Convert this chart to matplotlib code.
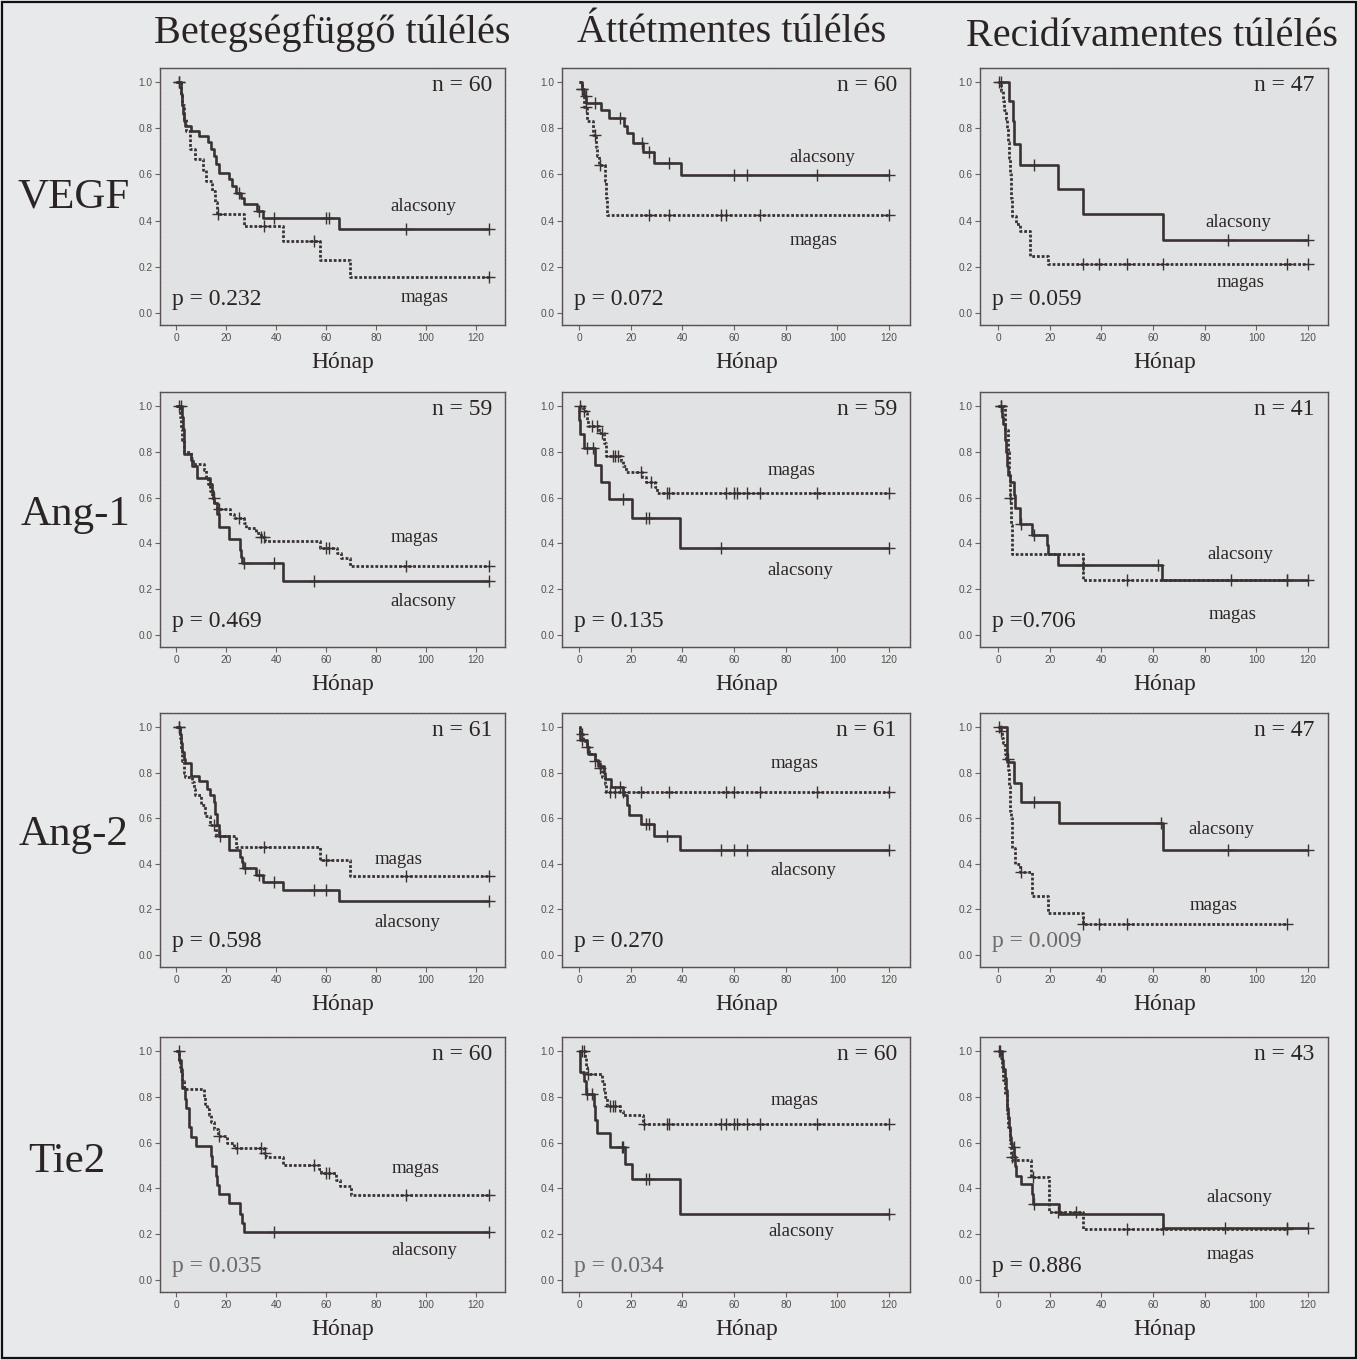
import matplotlib
matplotlib.use("Agg")
import matplotlib.pyplot as plt
from matplotlib.patches import Rectangle

# ---------------- DATA ----------------
col_titles = ["Betegségfüggő túlélés", "Áttétmentes túlélés", "Recidívamentes túlélés"]
row_labels = ["VEGF", "Ang-1", "Ang-2", "Tie2"]
x_ticks = [0, 20, 40, 60, 80, 100, 120]
y_ticks = [0.0, 0.2, 0.4, 0.6, 0.8, 1.0]
y_tick_labels = ["0.0", "0.2", "0.4", "0.6", "0.8", "1.0"]

n_values = [[60, 60, 47], [59, 59, 41], [61, 61, 47], [60, 60, 43]]
p_values = [["p = 0.232", "p = 0.072", "p = 0.059"],
            ["p = 0.469", "p = 0.135", "p =0.706"],
            ["p = 0.598", "p = 0.270", "p = 0.009"],
            ["p = 0.035", "p = 0.034", "p = 0.886"]]

# VEGF - disease specific
vegf_dss_low_t = [1.8, 2.2, 2.6, 3.0, 3.6, 5.8, 9.0, 12.8, 14.0, 15.0, 16.0, 17.0, 21.3, 22.5, 24.0, 25.8, 27.0, 32.4, 34.8, 65.0]
vegf_dss_low_s = [0.95, 0.90, 0.86, 0.83, 0.81, 0.79, 0.765, 0.74, 0.71, 0.68, 0.645, 0.605, 0.58, 0.55, 0.52, 0.50, 0.47, 0.44, 0.41, 0.365]
vegf_dss_low_c = [1.0, 25.0, 33.0, 39.0, 60.0, 61.0, 92.0, 125.0]
vegf_dss_high_t = [2.0, 2.5, 3.0, 4.0, 5.7, 7.7, 10.8, 12.0, 14.4, 15.5, 16.2, 27.0, 42.7, 57.4, 69.6]
vegf_dss_high_s = [0.95, 0.90, 0.84, 0.79, 0.71, 0.665, 0.62, 0.57, 0.53, 0.48, 0.43, 0.375, 0.31, 0.23, 0.155]
vegf_dss_high_c = [1.0, 16.8, 35.0, 55.0, 125.0]
# VEGF - metastasis free
vegf_mfs_low_t = [1.0, 2.0, 2.8, 8.6, 11.7, 17.5, 18.4, 20.7, 24.9, 29.0, 39.6]
vegf_mfs_low_s = [0.97, 0.94, 0.91, 0.88, 0.846, 0.81, 0.778, 0.735, 0.698, 0.648, 0.598]
vegf_mfs_low_c = [1.0, 2.5, 6.0, 16.0, 24.5, 27.0, 35.0, 60.0, 65.0, 92.0, 120.0]
vegf_mfs_high_t = [1.0, 1.5, 2.0, 3.0, 5.5, 6.5, 7.0, 7.7, 10.2, 10.5, 10.9]
vegf_mfs_high_s = [0.97, 0.94, 0.89, 0.83, 0.77, 0.72, 0.68, 0.64, 0.57, 0.50, 0.426]
vegf_mfs_high_c = [1.0, 2.5, 6.0, 8.0, 27.0, 35.0, 55.0, 57.0, 70.0, 120.0]
# VEGF - recurrence free
vegf_rfs_low_t = [4.2, 5.9, 6.3, 8.3, 23.0, 33.0, 64.0]
vegf_rfs_low_s = [0.918, 0.83, 0.733, 0.643, 0.536, 0.43, 0.318]
vegf_rfs_low_c = [0.3, 14.0, 89.0, 120.0]
vegf_rfs_high_t = [1.2, 1.8, 2.4, 3.0, 3.5, 3.8, 4.2, 4.6, 5.0, 5.5, 7.0, 8.4, 12.5, 19.2]
vegf_rfs_high_s = [0.96, 0.92, 0.88, 0.84, 0.80, 0.74, 0.67, 0.60, 0.50, 0.42, 0.386, 0.355, 0.247, 0.211]
vegf_rfs_high_c = [1.0, 33.0, 39.0, 50.0, 64.0, 112.0, 120.0]

# Ang-1
ang1_dss_low_t = [2.4, 2.7, 3.0, 3.3, 5.8, 6.2, 8.4, 13.7, 14.2, 14.7, 15.0, 16.3, 17.0, 21.3, 25.4, 26.0, 26.5, 42.6]
ang1_dss_low_s = [0.95, 0.90, 0.85, 0.79, 0.765, 0.736, 0.685, 0.66, 0.63, 0.60, 0.576, 0.53, 0.47, 0.419, 0.37, 0.34, 0.314, 0.234]
ang1_dss_low_c = [2.0, 27.0, 39.0, 55.0, 125.0]
ang1_dss_high_t = [1.5, 2.0, 2.5, 3.0, 6.0, 6.8, 11.0, 11.8, 12.6, 13.4, 14.2, 15.2, 16.2, 21.5, 23.0, 27.0, 28.0, 32.0, 34.0, 35.5, 57.4, 64.3, 66.0, 69.6]
ang1_dss_high_s = [0.95, 0.90, 0.85, 0.80, 0.775, 0.747, 0.72, 0.69, 0.66, 0.63, 0.60, 0.575, 0.55, 0.53, 0.51, 0.49, 0.467, 0.445, 0.43, 0.41, 0.382, 0.36, 0.336, 0.30]
ang1_dss_high_c = [1.0, 15.0, 17.0, 25.0, 34.0, 35.0, 60.0, 61.0, 92.0, 125.0]
ang1_mfs_low_t = [0.05, 0.5, 1.9, 6.0, 8.6, 11.7, 20.4, 39.0]
ang1_mfs_low_s = [0.94, 0.876, 0.818, 0.741, 0.669, 0.593, 0.509, 0.379]
ang1_mfs_low_c = [3.0, 5.5, 17.0, 26.0, 27.0, 55.0, 120.0]
ang1_mfs_high_t = [1.0, 1.8, 2.5, 3.0, 3.4, 7.9, 9.8, 10.3, 10.6, 16.2, 17.0, 18.1, 24.5, 26.0, 29.5, 30.0]
ang1_mfs_high_s = [0.99, 0.98, 0.97, 0.94, 0.913, 0.884, 0.84, 0.80, 0.78, 0.76, 0.74, 0.712, 0.69, 0.669, 0.645, 0.622]
ang1_mfs_high_c = [0.5, 2.0, 5.0, 7.0, 9.0, 13.0, 14.0, 15.0, 24.0, 28.0, 34.0, 35.0, 57.0, 60.0, 61.0, 65.0, 70.0, 92.0, 120.0]
ang1_rfs_low_t = [1.5, 2.0, 2.5, 2.8, 3.0, 3.5, 4.0, 4.5, 6.0, 6.5, 8.6, 13.0, 19.0, 19.3, 23.0, 63.4]
ang1_rfs_low_s = [0.95, 0.92, 0.90, 0.85, 0.80, 0.74, 0.70, 0.668, 0.61, 0.553, 0.483, 0.439, 0.395, 0.356, 0.305, 0.242]
ang1_rfs_low_c = [1.0, 9.0, 14.0, 33.0, 62.0, 90.0, 112.0, 120.0]
ang1_rfs_high_t = [2.5, 3.8, 4.2, 4.6, 5.1, 5.4, 32.9]
ang1_rfs_high_s = [0.897, 0.80, 0.70, 0.598, 0.48, 0.356, 0.239]
ang1_rfs_high_c = [1.0, 4.8, 50.0, 112.0]

# Ang-2
ang2_dss_low_t = [1.5, 2.0, 2.5, 3.0, 3.5, 6.0, 9.3, 12.5, 13.5, 15.0, 15.5, 16.5, 17.0, 21.0, 25.7, 26.2, 26.8, 32.0, 34.8, 42.6, 65.0]
ang2_dss_low_s = [0.97, 0.93, 0.89, 0.86, 0.84, 0.786, 0.761, 0.73, 0.703, 0.67, 0.62, 0.57, 0.524, 0.461, 0.43, 0.41, 0.383, 0.352, 0.32, 0.287, 0.236]
ang2_dss_low_c = [1.0, 17.5, 27.5, 33.0, 39.0, 55.0, 60.0, 125.0]
ang2_dss_high_t = [1.5, 2.0, 2.5, 3.0, 3.5, 6.5, 7.0, 7.5, 10.0, 11.5, 13.7, 15.8, 24.0, 57.7, 69.6]
ang2_dss_high_s = [0.95, 0.90, 0.85, 0.80, 0.779, 0.76, 0.73, 0.70, 0.66, 0.611, 0.57, 0.524, 0.476, 0.415, 0.345]
ang2_dss_high_c = [1.0, 15.0, 35.0, 60.0, 92.0, 125.0]
ang2_mfs_low_t = [0.5, 3.0, 3.5, 6.0, 7.5, 9.5, 10.0, 12.4, 17.0, 18.5, 19.5, 24.0, 29.0, 39.0]
ang2_mfs_low_s = [0.942, 0.91, 0.88, 0.855, 0.83, 0.80, 0.77, 0.737, 0.70, 0.657, 0.613, 0.574, 0.521, 0.46]
ang2_mfs_low_c = [1.0, 16.0, 26.0, 27.0, 34.0, 55.0, 60.0, 65.0, 120.0]
ang2_mfs_high_t = [0.5, 1.5, 3.0, 4.0, 6.0, 8.0, 9.0, 10.0, 10.5]
ang2_mfs_high_s = [0.97, 0.94, 0.91, 0.88, 0.85, 0.82, 0.78, 0.75, 0.715]
ang2_mfs_high_c = [1.0, 3.0, 6.0, 8.0, 12.0, 14.0, 17.0, 24.0, 35.0, 57.0, 60.0, 70.0, 92.0, 120.0]
ang2_rfs_low_t = [3.6, 6.0, 8.7, 23.4, 64.0]
ang2_rfs_low_s = [0.845, 0.756, 0.672, 0.578, 0.46]
ang2_rfs_low_c = [0.5, 14.0, 63.0, 89.0, 120.0]
ang2_rfs_high_t = [1.0, 1.5, 2.0, 2.5, 3.0, 4.0, 4.3, 4.5, 4.8, 5.0, 5.3, 5.5, 6.5, 8.5, 13.2, 19.2, 32.9]
ang2_rfs_high_s = [0.98, 0.95, 0.93, 0.88, 0.861, 0.81, 0.74, 0.669, 0.63, 0.60, 0.55, 0.47, 0.40, 0.366, 0.257, 0.183, 0.136]
ang2_rfs_high_c = [1.0, 3.8, 8.8, 33.0, 39.0, 50.0, 112.0]

# Tie2
tie2_dss_low_t = [1.2, 1.8, 2.5, 3.5, 4.0, 5.0, 5.3, 5.8, 8.0, 13.9, 14.5, 15.9, 16.3, 17.2, 21.0, 25.6, 26.2, 27.0]
tie2_dss_low_s = [0.96, 0.92, 0.837, 0.79, 0.753, 0.71, 0.67, 0.624, 0.587, 0.54, 0.50, 0.455, 0.415, 0.375, 0.335, 0.29, 0.25, 0.211]
tie2_dss_low_c = [39.0, 125.0]
tie2_dss_high_t = [1.2, 1.6, 2.0, 2.5, 3.0, 11.0, 11.5, 12.2, 13.0, 14.0, 15.0, 16.6, 20.3, 23.0, 35.0, 36.0, 42.9, 57.0, 58.0, 64.1, 65.5, 70.0]
tie2_dss_high_s = [0.96, 0.93, 0.90, 0.87, 0.833, 0.80, 0.77, 0.745, 0.72, 0.69, 0.66, 0.63, 0.60, 0.575, 0.555, 0.536, 0.502, 0.485, 0.466, 0.435, 0.41, 0.371]
tie2_dss_high_c = [1.0, 17.0, 24.5, 34.0, 35.5, 55.0, 60.0, 61.0, 92.0, 125.0]
tie2_mfs_low_t = [0.3, 0.5, 2.0, 2.5, 5.9, 6.3, 7.0, 12.0, 17.9, 20.4, 39.0]
tie2_mfs_low_s = [0.95, 0.908, 0.87, 0.814, 0.76, 0.70, 0.643, 0.58, 0.508, 0.44, 0.29]
tie2_mfs_low_c = [3.0, 5.0, 16.5, 17.0, 26.0, 27.0, 120.0]
tie2_mfs_high_t = [2.2, 2.6, 3.0, 9.0, 9.5, 10.0, 10.8, 16.0, 17.0, 24.6]
tie2_mfs_high_s = [0.97, 0.93, 0.90, 0.87, 0.83, 0.80, 0.76, 0.74, 0.72, 0.68]
tie2_mfs_high_c = [1.0, 2.0, 3.5, 12.0, 13.0, 14.0, 25.0, 34.0, 35.0, 55.0, 57.0, 60.0, 61.0, 65.0, 70.0, 92.0, 120.0]
tie2_rfs_low_t = [1.5, 2.0, 2.5, 3.0, 3.3, 3.6, 4.0, 4.3, 4.6, 5.0, 5.5, 6.2, 6.5, 6.8, 8.7, 13.2, 13.6, 23.4, 63.8]
tie2_rfs_low_s = [0.96, 0.92, 0.88, 0.83, 0.79, 0.75, 0.71, 0.67, 0.625, 0.60, 0.582, 0.54, 0.50, 0.456, 0.418, 0.375, 0.332, 0.287, 0.229]
tie2_rfs_low_c = [0.5, 6.0, 14.0, 88.0, 112.0, 120.0]
tie2_rfs_high_t = [1.0, 1.5, 2.0, 2.5, 3.5, 4.0, 4.5, 5.0, 5.5, 12.9, 19.6, 33.0]
tie2_rfs_high_s = [0.97, 0.93, 0.873, 0.808, 0.73, 0.67, 0.60, 0.538, 0.524, 0.448, 0.295, 0.221]
tie2_rfs_high_c = [0.8, 5.2, 13.5, 23.0, 30.0, 50.0, 64.0, 112.0]

curves = [
    [(vegf_dss_low_t, vegf_dss_low_s, vegf_dss_low_c, vegf_dss_high_t, vegf_dss_high_s, vegf_dss_high_c),
     (vegf_mfs_low_t, vegf_mfs_low_s, vegf_mfs_low_c, vegf_mfs_high_t, vegf_mfs_high_s, vegf_mfs_high_c),
     (vegf_rfs_low_t, vegf_rfs_low_s, vegf_rfs_low_c, vegf_rfs_high_t, vegf_rfs_high_s, vegf_rfs_high_c)],
    [(ang1_dss_low_t, ang1_dss_low_s, ang1_dss_low_c, ang1_dss_high_t, ang1_dss_high_s, ang1_dss_high_c),
     (ang1_mfs_low_t, ang1_mfs_low_s, ang1_mfs_low_c, ang1_mfs_high_t, ang1_mfs_high_s, ang1_mfs_high_c),
     (ang1_rfs_low_t, ang1_rfs_low_s, ang1_rfs_low_c, ang1_rfs_high_t, ang1_rfs_high_s, ang1_rfs_high_c)],
    [(ang2_dss_low_t, ang2_dss_low_s, ang2_dss_low_c, ang2_dss_high_t, ang2_dss_high_s, ang2_dss_high_c),
     (ang2_mfs_low_t, ang2_mfs_low_s, ang2_mfs_low_c, ang2_mfs_high_t, ang2_mfs_high_s, ang2_mfs_high_c),
     (ang2_rfs_low_t, ang2_rfs_low_s, ang2_rfs_low_c, ang2_rfs_high_t, ang2_rfs_high_s, ang2_rfs_high_c)],
    [(tie2_dss_low_t, tie2_dss_low_s, tie2_dss_low_c, tie2_dss_high_t, tie2_dss_high_s, tie2_dss_high_c),
     (tie2_mfs_low_t, tie2_mfs_low_s, tie2_mfs_low_c, tie2_mfs_high_t, tie2_mfs_high_s, tie2_mfs_high_c),
     (tie2_rfs_low_t, tie2_rfs_low_s, tie2_rfs_low_c, tie2_rfs_high_t, tie2_rfs_high_s, tie2_rfs_high_c)],
]

# group label positions (data coords): (low_x, low_y, high_x, high_y)
label_pos = [
    [(99, 0.46, 99.5, 0.065), (94, 0.675, 90.7, 0.315), (93, 0.39, 93.7, 0.133)],
    [(99, 0.147, 95.6, 0.425), (85.8, 0.28, 82.4, 0.72), (93.9, 0.35, 90.6, 0.09)],
    [(92.6, 0.145, 89, 0.42), (86.9, 0.37, 83.5, 0.84), (86.4, 0.55, 83.2, 0.216)],
    [(99.3, 0.13, 96, 0.488), (86, 0.214, 83.5, 0.785), (93.2, 0.36, 90, 0.112)],
]

# ---------------- STYLE / LAYOUT ----------------
W, H = 1358, 1360
fig = plt.figure(figsize=(W / 100, H / 100), dpi=100)
fig.patch.set_facecolor("#e7e9ea")

SERIF = ["Liberation Serif", "DejaVu Serif"]
SANS = ["Liberation Sans", "DejaVu Sans"]
LINE = "#3a3232"
TXT = "#2b2424"

col_px = [(160, 505), (562, 910), (980, 1328)]
row_px = [(68, 325), (392, 647), (713, 967), (1037, 1292)]
xlims = [(-6.4, 131.6), (-6.6, 128.1), (-7.0, 127.7)]
ylim = (-0.052, 1.061)
sig_p = {"p = 0.035", "p = 0.034", "p = 0.009"}


def surv_at(t, times, survs):
    s = 1.0
    for ti, si in zip(times, survs):
        if ti <= t:
            s = si
    return s


def draw_curve(ax, times, survs, cens, dotted):
    end = max(cens)
    xs = [0.0] + list(times) + [end]
    ys = [1.0] + list(survs) + [survs[-1]]
    ls = (0, (1.0, 0.7)) if dotted else "-"
    lw = 2.0 if dotted else 1.9
    ax.plot(xs, ys, drawstyle="steps-post", color=LINE, lw=lw, linestyle=ls,
            solid_capstyle="butt", dash_capstyle="butt")
    cy = [surv_at(c, times, survs) for c in cens]
    ax.plot(cens, cy, linestyle="none", marker="+", markersize=8,
            markeredgewidth=1.0, color=LINE)


for r in range(4):
    for c in range(3):
        x0, x1 = col_px[c]
        y0, y1 = row_px[r]
        ax = fig.add_axes([x0 / W, 1 - y1 / H, (x1 - x0) / W, (y1 - y0) / H])
        ax.set_facecolor("#e0e2e3")
        lt, ls_, lc, ht, hs, hc = curves[r][c]
        draw_curve(ax, lt, ls_, lc, dotted=False)
        draw_curve(ax, ht, hs, hc, dotted=True)
        ax.set_xlim(*xlims[c])
        ax.set_ylim(*ylim)
        ax.set_xticks(x_ticks)
        ax.set_yticks(y_ticks)
        ax.set_yticklabels(y_tick_labels)
        ax.tick_params(direction="out", length=3.5, width=0.8, colors="#6a6262",
                       labelsize=7.3, pad=2)
        for lab in ax.get_xticklabels() + ax.get_yticklabels():
            lab.set_family(SANS)
            lab.set_color("#555050")
        for sp in ax.spines.values():
            sp.set_color("#5a5050")
            sp.set_linewidth(1.0)
            sp.set_linestyle((0, (2.0, 0.8)))
        ax.set_xlabel("Hónap", family=SERIF, fontsize=17, color=TXT)
        ax.xaxis.set_label_coords(0.53, -0.105)

        lx, ly, hx, hy = label_pos[r][c]
        ax.text(lx, ly, "alacsony", family=SERIF, fontsize=13.5, color=TXT,
                ha="center", va="center")
        ax.text(hx, hy, "magas", family=SERIF, fontsize=13.5, color=TXT,
                ha="center", va="center")
        ax.text(0.962, 0.93, f"n = {n_values[r][c]}", transform=ax.transAxes,
                family=SERIF, fontsize=17, color=TXT, ha="right", va="center")
        ptxt = p_values[r][c]
        ax.text(0.035, 0.1, ptxt, transform=ax.transAxes, family=SERIF,
                fontsize=17, color="#6e6a6a" if ptxt in sig_p else TXT,
                ha="left", va="center")

# column titles
title_x = [332, 732, 1152]
title_y = [33, 33, 37]
for c in range(3):
    fig.text(title_x[c] / W, 1 - title_y[c] / H, col_titles[c], family=SERIF,
             fontsize=29, color=TXT, ha="center", va="center")

# row labels
row_x = [74, 76, 74, 67]
row_y = [197, 515, 835, 1162]
for r in range(4):
    fig.text(row_x[r] / W, 1 - row_y[r] / H, row_labels[r], family=SERIF,
             fontsize=31, color=TXT, ha="center", va="center")

fig.patches.append(Rectangle((0.0015, 0.0015), 0.997, 0.997, transform=fig.transFigure,
                             fill=False, edgecolor="#111111", lw=1.6))

fig.savefig("out.png", dpi=100, facecolor=fig.get_facecolor())
